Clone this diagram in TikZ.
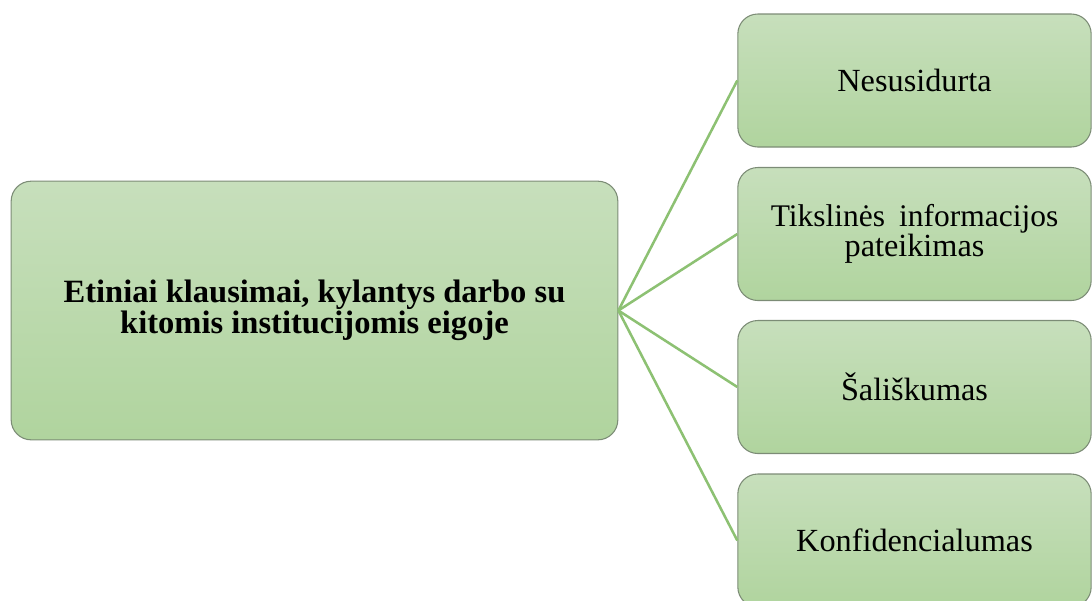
\documentclass[tikz,border=0pt]{standalone}
\usepackage{fontspec}
\setmainfont{Liberation Serif}
\usetikzlibrary{shadings}
\definecolor{boxtop}{HTML}{C7DFBC}
\definecolor{boxbot}{HTML}{B0D49E}
\definecolor{boxedge}{HTML}{7C8C76}
\definecolor{linkgreen}{HTML}{8DC173}
\tikzset{
  greenbox/.style={draw=boxedge, line width=0.8pt, rounded corners=15pt,
    top color=boxtop, bottom color=boxbot, align=center, inner sep=0pt,
    font=\fontsize{24.2}{20.5}\selectfont},
  bigbox/.style={greenbox, minimum width=455pt, minimum height=194pt,
    font=\fontsize{24.4}{22}\selectfont\bfseries},
  smallbox/.style={greenbox, minimum width=265pt, minimum height=99.75pt},
  link/.style={draw=linkgreen, line width=1.9pt}
}
\begin{document}
\begin{tikzpicture}[x=0.75pt,y=-0.75pt]
\useasboundingbox (0,0) rectangle (1092,600);
\clip (0,0) rectangle (1092,600);
\node[bigbox] (main) at (314.5,310.5) {Etiniai klausimai, kylantys darbo su\\kitomis institucijomis eigoje};
\node[smallbox] (b1) at (914.5,80.5) {Nesusidurta};
\node[smallbox] (b2) at (914.5,234) {{\fontsize{23.6}{20.5}\selectfont Tikslinės\hspace{0.45em}informacijos}\\pateikimas};
\node[smallbox] (b3) at (914.5,387) {Šališkumas};
\node[smallbox] (b4) at (914.5,540.5) {Konfidencialumas};
\draw[link] (main.east) -- (b1.west);
\draw[link] (main.east) -- (b2.west);
\draw[link] (main.east) -- (b3.west);
\draw[link] (main.east) -- (b4.west);
\end{tikzpicture}
\end{document}
